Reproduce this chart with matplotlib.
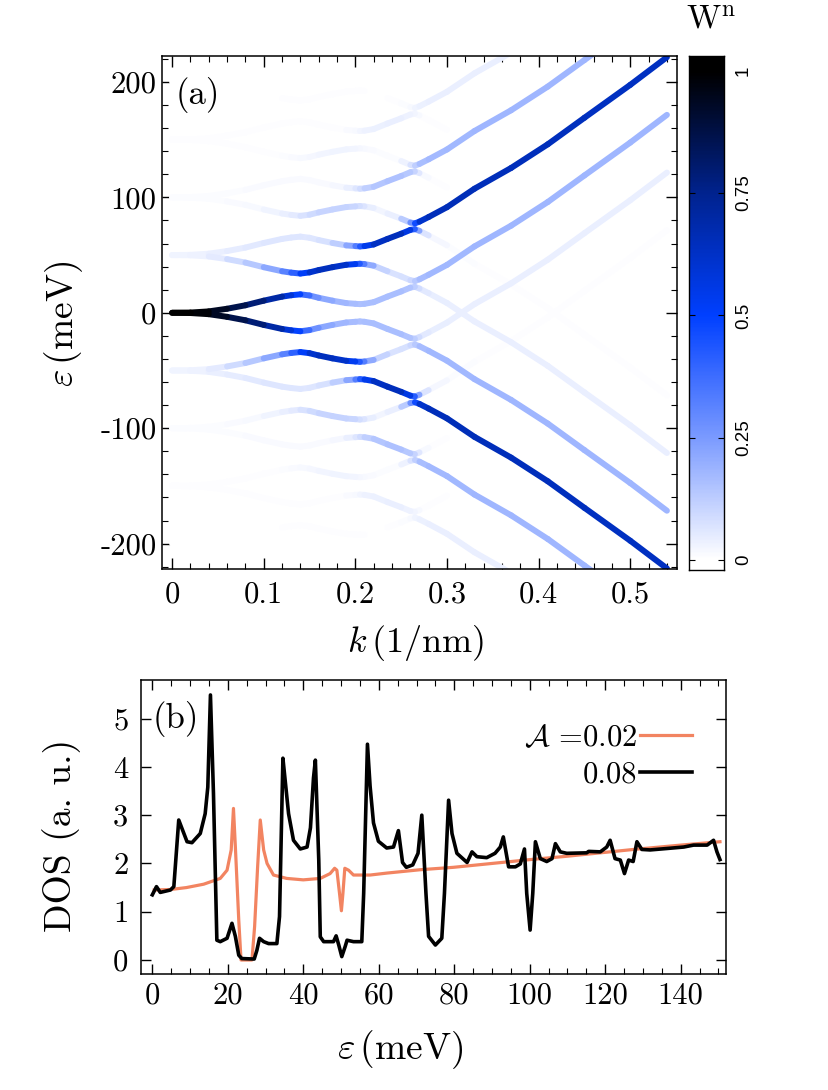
import numpy as np
import matplotlib
matplotlib.use('Agg')
import matplotlib.pyplot as plt
import matplotlib.ticker as ticker
from matplotlib.collections import LineCollection
from matplotlib.colors import LinearSegmentedColormap, Normalize

plt.rcParams['font.family'] = 'cmr10'
plt.rcParams['mathtext.fontset'] = 'cm'
plt.rcParams['axes.unicode_minus'] = False

##Panel (a): bands, energies in meV on a common k grid (1/nm)
k_grid = [0, 0.02, 0.04, 0.06, 0.08, 0.10, 0.12, 0.13, 0.14, 0.15, 0.16, 0.175, 0.19, 0.20, 0.205,
          0.21, 0.22, 0.235, 0.25, 0.26, 0.265, 0.27, 0.28, 0.30, 0.33, 0.37, 0.41, 0.45, 0.50, 0.54]

#upper half: bands starting at 0, 50, 100, 150, 200 (p = going up first, m = going down first)
p0_eps = [0, 0.2, 1.2, 3.5, 6.5, 10.5, 14, 15.2, 16, 15, 13, 10.5, 8.4, 7.8, 7.5, 7.8, 9.2, 14, 18.5, 21.8, 22.5, 21, 17, 8.5, -7.5, -25.5, -46, -69, -97.5, -121.5]
p1_eps = [50, 50.2, 51.2, 53.5, 56.5, 60.5, 64, 65.2, 66, 65, 63, 60.5, 58.4, 57.8, 57.5, 57.8, 59.2, 64, 68.5, 71.8, 72.5, 71, 67, 58.5, 42.5, 24.5, 4, -19, -47.5, -71.5]
p2_eps = [100, 100.2, 101.2, 103.5, 106.5, 110.5, 114, 115.2, 116, 115, 113, 110.5, 108.4, 107.8, 107.5, 107.8, 109.2, 114, 118.5, 121.8, 122.5, 121, 117, 108.5, 92.5, 74.5, 54, 31, 2.5, -21.5]
p3_eps = [150, 150.2, 151.2, 153.5, 156.5, 160.5, 164, 165.2, 166, 165, 163, 160.5, 158.4, 157.8, 157.5, 157.8, 159.2, 164, 168.5, 171.8, 172.5, 171, 167, 158.5, 142.5, 124.5, 104, 81, 52.5, 28.5]
m1_eps = [50, 49.8, 48.8, 46.5, 43.5, 39.5, 36, 34.8, 34, 35, 37, 39.5, 41.6, 42.2, 42.5, 42.2, 40.8, 36, 31.5, 28.2, 27.5, 29, 33, 41.5, 57.5, 75.5, 96, 119, 147.5, 171.5]
m2_eps = [100, 99.8, 98.8, 96.5, 93.5, 89.5, 86, 84.8, 84, 85, 87, 89.5, 91.6, 92.2, 92.5, 92.2, 90.8, 86, 81.5, 78.2, 77.5, 79, 83, 91.5, 107.5, 125.5, 146, 169, 197.5, 221.5]
m3_eps = [150, 149.8, 148.8, 146.5, 143.5, 139.5, 136, 134.8, 134, 135, 137, 139.5, 141.6, 142.2, 142.5, 142.2, 140.8, 136, 131.5, 128.2, 127.5, 129, 133, 141.5, 157.5, 175.5, 196, 219, 247.5, 271.5]
m4_eps = [200, 199.8, 198.8, 196.5, 193.5, 189.5, 186, 184.8, 184, 185, 187, 189.5, 191.6, 192.2, 192.5, 192.2, 190.8, 186, 181.5, 178.2, 177.5, 179, 183, 191.5, 207.5, 225.5, 246, 269, 297.5, 321.5]

#lower half
m0_eps = [0, -0.2, -1.2, -3.5, -6.5, -10.5, -14, -15.2, -16, -15, -13, -10.5, -8.4, -7.8, -7.5, -7.8, -9.2, -14, -18.5, -21.8, -22.5, -21, -17, -8.5, 7.5, 25.5, 46, 69, 97.5, 121.5]
mm1_eps = [-50, -50.2, -51.2, -53.5, -56.5, -60.5, -64, -65.2, -66, -65, -63, -60.5, -58.4, -57.8, -57.5, -57.8, -59.2, -64, -68.5, -71.8, -72.5, -71, -67, -58.5, -42.5, -24.5, -4, 19, 47.5, 71.5]
mm2_eps = [-100, -100.2, -101.2, -103.5, -106.5, -110.5, -114, -115.2, -116, -115, -113, -110.5, -108.4, -107.8, -107.5, -107.8, -109.2, -114, -118.5, -121.8, -122.5, -121, -117, -108.5, -92.5, -74.5, -54, -31, -2.5, 21.5]
mm3_eps = [-150, -150.2, -151.2, -153.5, -156.5, -160.5, -164, -165.2, -166, -165, -163, -160.5, -158.4, -157.8, -157.5, -157.8, -159.2, -164, -168.5, -171.8, -172.5, -171, -167, -158.5, -142.5, -124.5, -104, -81, -52.5, -28.5]
pm1_eps = [-50, -49.8, -48.8, -46.5, -43.5, -39.5, -36, -34.8, -34, -35, -37, -39.5, -41.6, -42.2, -42.5, -42.2, -40.8, -36, -31.5, -28.2, -27.5, -29, -33, -41.5, -57.5, -75.5, -96, -119, -147.5, -171.5]
pm2_eps = [-100, -99.8, -98.8, -96.5, -93.5, -89.5, -86, -84.8, -84, -85, -87, -89.5, -91.6, -92.2, -92.5, -92.2, -90.8, -86, -81.5, -78.2, -77.5, -79, -83, -91.5, -107.5, -125.5, -146, -169, -197.5, -221.5]
pm3_eps = [-150, -149.8, -148.8, -146.5, -143.5, -139.5, -136, -134.8, -134, -135, -137, -139.5, -141.6, -142.2, -142.5, -142.2, -140.8, -136, -131.5, -128.2, -127.5, -129, -133, -141.5, -157.5, -175.5, -196, -219, -247.5, -271.5]
pm4_eps = [-200, -199.8, -198.8, -196.5, -193.5, -189.5, -186, -184.8, -184, -185, -187, -189.5, -191.6, -192.2, -192.5, -192.2, -190.8, -186, -181.5, -178.2, -177.5, -179, -183, -191.5, -207.5, -225.5, -246, -269, -297.5, -321.5]

#weight W^n along each band (the mirrored band has the same weight)
p0_w = [1.0, 1.0, .97, .90, .83, .76, .64, .54, .45, .31, .24, .19, .17, .16, .16, .16, .165, .163, .16, .14, .109, .064, .047, .042, .04, .04, .04, .04, .04, .04]
m1_w = [.03, .032, .037, .072, .11, .165, .27, .37, .45, .58, .64, .65, .59, .48, .38, .28, .145, .079, .068, .088, .109, .157, .174, .179, .18, .18, .18, .18, .18, .18]
p1_w = [.03, .032, .037, .044, .052, .061, .065, .064, .061, .062, .067, .088, .16, .28, .38, .48, .61, .66, .64, .49, .35, .107, .032, .012, .005, .005, .005, .005, .005, .005]
m2_w = [.008, .008, .009, .011, .015, .021, .034, .046, .061, .083, .10, .113, .112, .094, .077, .057, .029, .025, .055, .21, .35, .58, .65, .66, .66, .65, .65, .64, .64, .64]
p2_w = [.008, .008, .009, .01, .012, .014, .015, .014, .014, .013, .013, .015, .03, .053, .077, .10, .135, .154, .155, .124, .089, .029, .01, .003, .003, .003, .003, .003, .003, .003]
m3_w = [.005, .005, .005, .005, .006, .006, .008, .011, .014, .019, .023, .028, .029, .025, .021, .016, .009, .008, .015, .053, .089, .152, .173, .178, .18, .18, .18, .18, .18, .18]
p3_w = [.005, .005, .005, .005, .005, .005, .005, .005, .004, .004, .004, .005, .009, .015, .021, .027, .036, .04, .039, .031, .023, .009, .005, .003, .003, .003, .003, .003, .003, .003]
m4_w = [.003, .003, .003, .003, .003, .003, .004, .004, .004, .005, .005, .005, .005, .004, .004, .004, .003, .004, .006, .015, .023, .037, .04, .041, .04, .04, .04, .04, .04, .04]

cbar_ticks = [0, 0.25, 0.5, 0.75, 1]
cbar_labels = ['0', '0.25', '0.5', '0.75', '1']

##Panel (b): DOS curves
dos_e_02 = [0.5, 4.8, 9.0, 13.6, 18.0, 19.8, 20.9, 21.5, 22.0, 22.9, 23.5, 26.4, 27.1, 27.9, 28.6, 29.5, 30.4, 32.1, 35.6, 40.0,
            44.5, 47.1, 48.3, 48.9, 49.6, 50.1, 50.5, 51.0, 52.0, 53.3, 57.7, 62.1, 71.0, 79.8, 90.0, 100.1, 110.0, 118.7, 127.5, 140.0, 150.4]
dos_v_02 = [1.45, 1.46, 1.50, 1.57, 1.69, 1.86, 2.28, 3.14, 2.35, 0.83, 0.0, 0.0, 0.69, 1.93, 2.90, 2.28, 2.00, 1.76, 1.69, 1.66,
            1.69, 1.79, 1.90, 1.86, 1.38, 1.02, 1.38, 1.90, 1.86, 1.76, 1.76, 1.80, 1.87, 1.92, 2.00, 2.08, 2.15, 2.22, 2.29, 2.38, 2.45]

dos_e_08 = [0.0, 1.1, 2.1, 4.8, 5.7, 7.0, 9.2, 10.5, 12.7, 14.0, 14.7, 15.4, 16.2, 17.1, 18.0, 19.8, 21.1, 22.0, 22.9, 23.7,
            27.0, 27.7, 28.4, 29.5, 30.8, 33.0, 33.7, 34.6, 35.2, 36.1, 37.4, 39.2, 41.0, 41.9, 42.7, 43.2, 44.1, 44.5, 45.4, 48.0,
            48.7, 49.4, 50.2, 51.1, 51.6, 53.3, 55.5, 56.0, 57.0, 57.7, 58.6, 59.9, 62.1, 63.9, 65.2, 66.3, 67.3, 69.0, 70.4, 71.4,
            72.5, 73.2, 75.0, 76.7, 77.4, 78.5, 79.4, 80.7, 83.4, 84.7, 86.0, 88.6, 90.8, 92.2, 93.0, 94.4, 96.2, 97.5, 98.6, 99.2,
            100.1, 100.8, 101.5, 102.8, 104.5, 105.9, 106.8, 108.1, 109.8, 115.1, 115.6, 118.7, 120.4, 121.3, 122.6, 124.0, 125.1, 126.2, 127.4, 128.4,
            129.7, 131.9, 136.4, 140.8, 143.4, 147.0, 148.7, 149.6, 150.4]
dos_v_08 = [1.35, 1.52, 1.40, 1.45, 1.52, 2.90, 2.45, 2.43, 2.62, 3.03, 3.58, 5.49, 3.45, 0.41, 0.38, 0.45, 0.76, 0.49, 0.10, 0.03,
            0.02, 0.20, 0.45, 0.38, 0.34, 0.34, 0.90, 4.18, 3.72, 3.03, 2.48, 2.30, 2.34, 2.74, 3.77, 4.14, 2.07, 0.48, 0.38, 0.38,
            0.50, 0.31, 0.07, 0.28, 0.41, 0.38, 0.38, 1.38, 4.47, 3.60, 2.84, 2.46, 2.32, 2.34, 2.68, 2.02, 1.92, 1.97, 2.21, 3.00,
            1.38, 0.49, 0.31, 0.45, 1.38, 3.31, 2.62, 2.21, 2.02, 2.24, 2.14, 2.12, 2.21, 2.34, 2.55, 1.93, 1.93, 1.99, 2.30, 1.38,
            0.62, 1.38, 2.45, 2.10, 2.04, 2.10, 2.41, 2.24, 2.21, 2.22, 2.25, 2.24, 2.34, 2.48, 2.10, 2.07, 1.79, 2.07, 2.04, 2.45,
            2.29, 2.28, 2.31, 2.34, 2.38, 2.38, 2.48, 2.24, 2.08]

legend_labels = [r'$\mathcal{A}$ =0.02', '0.08']

W, H = 829, 1090
fig = plt.figure(figsize=(W/100, H/100), dpi=100)

def px_box(x0, y0, x1, y1):
    return [x0/W, 1 - y1/H, (x1 - x0)/W, (y1 - y0)/H]

#white -> blue -> black
cmap = LinearSegmentedColormap.from_list('wn', [(0, '#ffffff'), (0.25, '#7a9aff'), (0.5, '#0040ff'),
                                                (0.75, '#00238f'), (1, '#000000')])
norm = Normalize(vmin=0, vmax=1)

ax_a = fig.add_axes(px_box(162, 56, 677, 569))
curves = [(p0_eps, p0_w), (p1_eps, p1_w), (p2_eps, p2_w), (p3_eps, p3_w),
          (m1_eps, m1_w), (m2_eps, m2_w), (m3_eps, m3_w), (m4_eps, m4_w),
          (m0_eps, p0_w), (mm1_eps, p1_w), (mm2_eps, p2_w), (mm3_eps, p3_w),
          (pm1_eps, m1_w), (pm2_eps, m2_w), (pm3_eps, m3_w), (pm4_eps, m4_w)]
segs = []
vals = []
for eps, w in curves:
    for i in range(len(k_grid) - 1):
        segs.append([(k_grid[i], eps[i]), (k_grid[i+1], eps[i+1])])
        vals.append(0.5*(w[i] + w[i+1]))
#darker pieces on top
order = sorted(range(len(vals)), key=lambda j: vals[j])
lc = LineCollection([segs[j] for j in order], cmap=cmap, norm=norm, linewidths=4.3, capstyle='round')
lc.set_array(np.array([vals[j] for j in order]))
ax_a.add_collection(lc)

ax_a.set_xlim(-0.011, 0.551)
ax_a.set_ylim(-222, 222.5)
ax_a.xaxis.set_major_locator(ticker.MultipleLocator(0.1))
ax_a.xaxis.set_minor_locator(ticker.MultipleLocator(0.02))
ax_a.yaxis.set_major_locator(ticker.MultipleLocator(100))
ax_a.yaxis.set_minor_locator(ticker.MultipleLocator(20))
ax_a.xaxis.set_major_formatter(ticker.FormatStrFormatter('%g'))
ax_a.yaxis.set_major_formatter(ticker.FormatStrFormatter('%g'))
ax_a.tick_params(which='both', direction='in', top=True, right=True, labelsize=22)
ax_a.tick_params(which='major', length=8, width=1)
ax_a.tick_params(which='minor', length=4, width=0.8)
ax_a.tick_params(axis='x', pad=9)
ax_a.tick_params(axis='y', pad=4)

#colour bar, the bar runs a little past 0 and 1
cax = fig.add_axes(px_box(689, 56, 724, 570))
bar_lo, bar_hi = -0.02, 1.03
cax.imshow(np.linspace(bar_lo, bar_hi, 400).reshape(-1, 1), cmap=cmap, norm=norm, aspect='auto',
           origin='lower', extent=[0, 1, bar_lo, bar_hi])
cax.set_xticks([])
cax.yaxis.tick_right()
cax.set_yticks(cbar_ticks)
cax.set_yticklabels(cbar_labels, rotation=90, va='center', family='Liberation Sans', fontsize=13.5)
cax.tick_params(direction='in', length=4, width=0.8, left=True, right=True, pad=8)
for s in cax.spines.values():
    s.set_linewidth(1.0)

#panel (b)
ax_b = fig.add_axes(px_box(141, 680, 726, 974))
ax_b.plot(dos_e_02, dos_v_02, color='#f28461', lw=2.3, label=legend_labels[0])
ax_b.plot(dos_e_08, dos_v_08, color='black', lw=2.6, label=legend_labels[1])
ax_b.set_xlim(-3, 152)
ax_b.set_ylim(-0.29, 5.8)
ax_b.xaxis.set_major_locator(ticker.MultipleLocator(20))
ax_b.xaxis.set_minor_locator(ticker.MultipleLocator(5))
ax_b.yaxis.set_major_locator(ticker.MultipleLocator(1))
ax_b.xaxis.set_major_formatter(ticker.FormatStrFormatter('%g'))
ax_b.yaxis.set_major_formatter(ticker.FormatStrFormatter('%g'))
ax_b.tick_params(which='both', direction='in', top=True, right=True, labelsize=22)
ax_b.tick_params(which='major', length=7, width=1)
ax_b.tick_params(which='minor', length=4, width=0.8)
ax_b.tick_params(axis='x', pad=6)
ax_b.tick_params(axis='y', pad=9)
ax_b.legend(loc='upper right', bbox_to_anchor=((692-141)/585, (974-724)/294), frameon=False,
            markerfirst=False, fontsize=22, handlelength=1.7, handletextpad=0.1,
            labelspacing=0.3, borderpad=0, borderaxespad=0)

for ax in (ax_a, ax_b):
    for s in ax.spines.values():
        s.set_linewidth(1.1)

#labels
fig.text(64/W, 1 - 324/H, r'$\varepsilon\,(\mathrm{meV})$', rotation=90, ha='center', va='center', fontsize=27)
fig.text(415/W, 1 - 643/H, r'$k\,(1/\mathrm{nm})$', ha='center', va='center', fontsize=26)
fig.text(400/W, 1 - 1050/H, r'$\varepsilon\,(\mathrm{meV})$', ha='center', va='center', fontsize=27)
fig.text(62/W, 1 - 835/H, 'DOS (a. u.)', rotation=90, ha='center', va='center', fontsize=27)
fig.text(711/W, 1 - 20/H, r'$\mathrm{W}^{\mathrm{n}}$', ha='center', va='center', fontsize=24)
fig.text(176/W, 1 - 95/H, '(a)', ha='left', va='center', fontsize=25)
fig.text(153/W, 1 - 719/H, '(b)', ha='left', va='center', fontsize=25)

fig.savefig('out.png', dpi=100)
